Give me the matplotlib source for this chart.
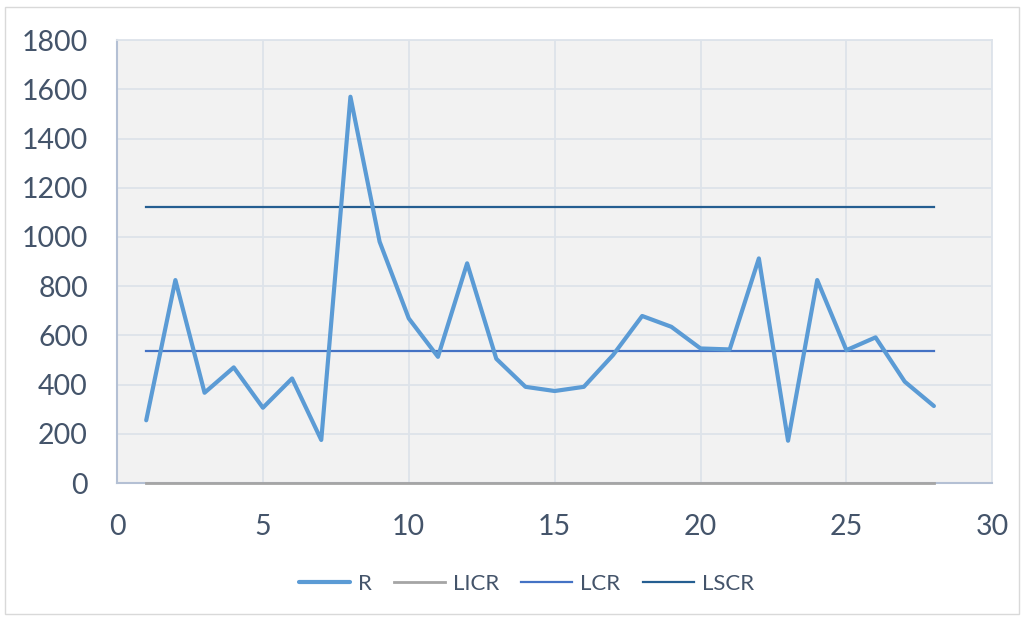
import matplotlib.pyplot as plt
import numpy as np
from matplotlib.patches import Rectangle

plt.rcParams['font.family'] = ['Lato', 'DejaVu Sans']

muestra = np.arange(1, 29)
r = [255, 825, 367, 470, 306, 425, 175, 1570, 981, 669, 513, 893, 505, 391,
     374, 391, 520, 679, 635, 547, 543, 913, 172, 825, 540, 592, 412, 313]
licr = 0
lcr = 535
lscr = 1123

fig = plt.figure(figsize=(10.24, 6.18), dpi=100)
ax = fig.add_axes([0.1143, 0.2184, 0.8547, 0.7166])
ax.set_facecolor('#f2f2f2')

ax.plot(muestra, r, color='#5b9bd5', lw=3, label='R', solid_capstyle='round',
        solid_joinstyle='round', zorder=5)
ax.plot(muestra, [licr] * len(muestra), color='#a5a5a5', lw=2, label='LICR',
        zorder=4, clip_on=False)
ax.plot(muestra, [lcr] * len(muestra), color='#4472c4', lw=1.6, label='LCR', zorder=4)
ax.plot(muestra, [lscr] * len(muestra), color='#255e91', lw=1.6, label='LSCR', zorder=4)

ax.set_xlim(0, 30)
ax.set_ylim(0, 1800)
ax.set_xticks(range(0, 31, 5))
ax.set_yticks(range(0, 1801, 200))
ax.grid(True, color='#dde3ea', lw=1.3)
ax.set_axisbelow(True)
ax.tick_params(length=0, labelsize=20.5, labelcolor='#44546a')
ax.tick_params(axis='x', pad=22)
ax.tick_params(axis='y', pad=21)
for side in ['top', 'right']:
    ax.spines[side].set_color('#dde3ea')
    ax.spines[side].set_linewidth(1.3)
for side in ['left', 'bottom']:
    ax.spines[side].set_color('#b4c0d4')
    ax.spines[side].set_linewidth(1.5)

fig.legend(loc='center', bbox_to_anchor=(0.514, 0.055), ncol=4, frameon=False,
           fontsize=16, labelcolor='#44546a', handlelength=2.3,
           handletextpad=0.35, columnspacing=1.0)

fig.patches.append(Rectangle((5 / 1024, 4 / 618), 1014 / 1024, 607 / 618,
                             transform=fig.transFigure, fill=False,
                             edgecolor='#d9d9d9', lw=1))

fig.savefig('out.png', dpi=100)
